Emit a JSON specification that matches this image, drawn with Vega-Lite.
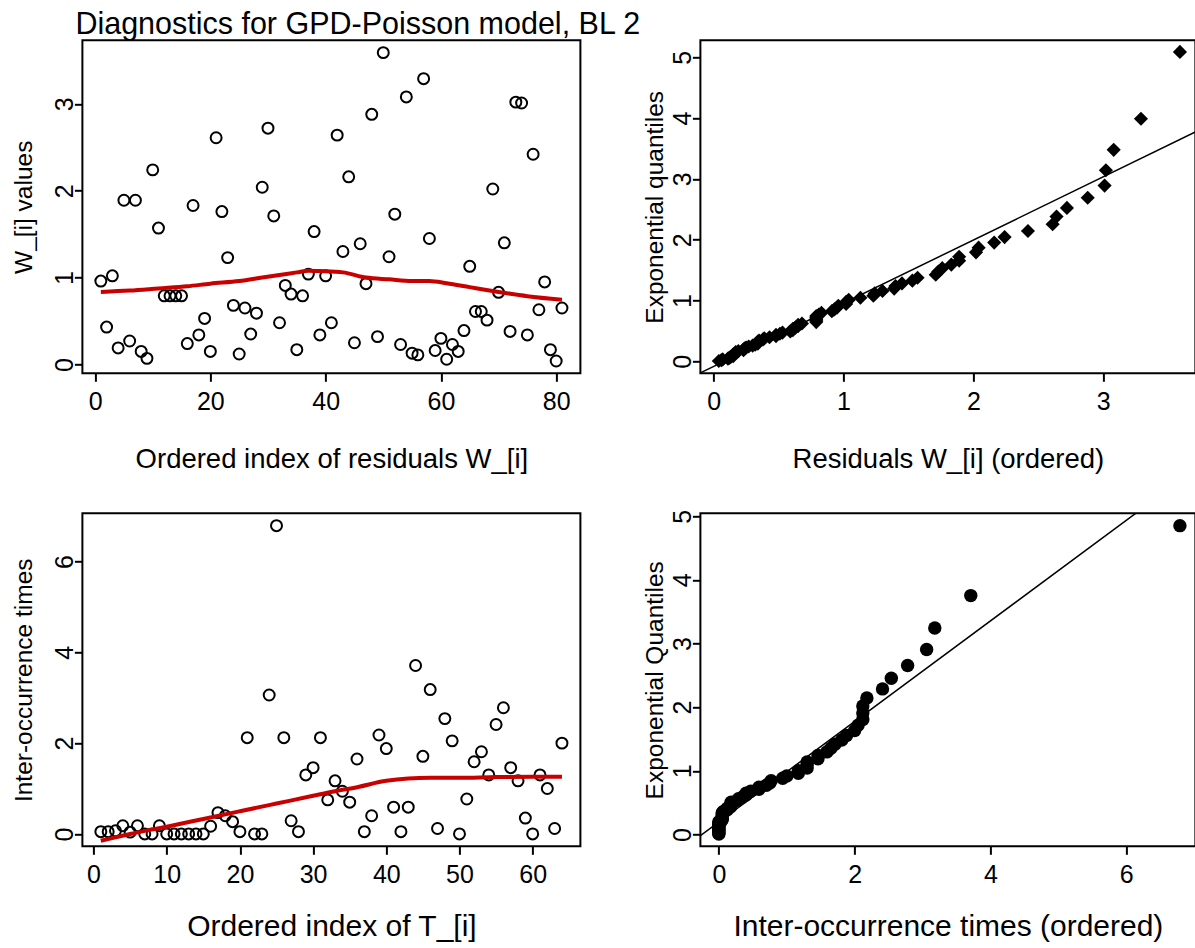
{
  "$schema": "https://vega.github.io/schema/vega-lite/v6.json",
  "background": "white",
  "padding": {"left": 10.4, "top": 9.3, "right": 0, "bottom": 0},
  "title": {"text": "Diagnostics for GPD-Poisson model, BL 2", "anchor": "start", "frame": "group", "fontSize": 30.5, "font": "Liberation Sans", "fontWeight": "normal", "color": "black", "baseline": "alphabetic", "offset": -25.3, "dx": -7},
  "columns": 2,
  "bounds": "flush",
  "spacing": {"row": 140, "column": 120},
  "datasets": {
    "w": [{"i":1,"w":0.96},{"i":2,"w":0.43},{"i":3,"w":1.02},{"i":4,"w":0.19},{"i":5,"w":1.89},{"i":6,"w":0.27},{"i":7,"w":1.89},{"i":8,"w":0.15},{"i":9,"w":0.07},{"i":10,"w":2.24},{"i":11,"w":1.57},{"i":12,"w":0.79},{"i":13,"w":0.79},{"i":14,"w":0.79},{"i":15,"w":0.79},{"i":16,"w":0.24},{"i":17,"w":1.83},{"i":18,"w":0.34},{"i":19,"w":0.53},{"i":20,"w":0.15},{"i":21,"w":2.61},{"i":22,"w":1.76},{"i":23,"w":1.23},{"i":24,"w":0.68},{"i":25,"w":0.12},{"i":26,"w":0.65},{"i":27,"w":0.35},{"i":28,"w":0.59},{"i":29,"w":2.04},{"i":30,"w":2.72},{"i":31,"w":1.71},{"i":32,"w":0.48},{"i":33,"w":0.91},{"i":34,"w":0.81},{"i":35,"w":0.17},{"i":36,"w":0.79},{"i":37,"w":1.04},{"i":38,"w":1.53},{"i":39,"w":0.34},{"i":40,"w":1.02},{"i":41,"w":0.48},{"i":42,"w":2.64},{"i":43,"w":1.30},{"i":44,"w":2.16},{"i":45,"w":0.25},{"i":46,"w":1.39},{"i":47,"w":0.93},{"i":48,"w":2.88},{"i":49,"w":0.32},{"i":50,"w":3.59},{"i":51,"w":1.24},{"i":52,"w":1.73},{"i":53,"w":0.23},{"i":54,"w":3.08},{"i":55,"w":0.13},{"i":56,"w":0.11},{"i":57,"w":3.29},{"i":58,"w":1.45},{"i":59,"w":0.16},{"i":60,"w":0.30},{"i":61,"w":0.06},{"i":62,"w":0.23},{"i":63,"w":0.15},{"i":64,"w":0.39},{"i":65,"w":1.13},{"i":66,"w":0.61},{"i":67,"w":0.61},{"i":68,"w":0.51},{"i":69,"w":2.02},{"i":70,"w":0.83},{"i":71,"w":1.40},{"i":72,"w":0.38},{"i":73,"w":3.02},{"i":74,"w":3.01},{"i":75,"w":0.34},{"i":76,"w":2.42},{"i":77,"w":0.63},{"i":78,"w":0.95},{"i":79,"w":0.17},{"i":80,"w":0.04},{"i":81,"w":0.65}],
    "wl": [{"i":1,"w":0.835},{"i":6,"w":0.85},{"i":11,"w":0.875},{"i":16,"w":0.9},{"i":20,"w":0.93},{"i":25,"w":0.96},{"i":29,"w":1.0},{"i":32,"w":1.03},{"i":35,"w":1.06},{"i":37,"w":1.08},{"i":39,"w":1.075},{"i":43,"w":1.06},{"i":47,"w":1.0},{"i":51,"w":0.98},{"i":55,"w":0.962},{"i":58,"w":0.96},{"i":61,"w":0.935},{"i":65,"w":0.89},{"i":70,"w":0.835},{"i":75,"w":0.786},{"i":81,"w":0.745}],
    "wq": [{"r":0.04,"q":0.006},{"r":0.06,"q":0.019},{"r":0.07,"q":0.031},{"r":0.11,"q":0.044},{"r":0.12,"q":0.057},{"r":0.13,"q":0.070},{"r":0.15,"q":0.084},{"r":0.15,"q":0.097},{"r":0.15,"q":0.111},{"r":0.16,"q":0.125},{"r":0.17,"q":0.139},{"r":0.17,"q":0.153},{"r":0.19,"q":0.168},{"r":0.23,"q":0.182},{"r":0.23,"q":0.197},{"r":0.24,"q":0.212},{"r":0.25,"q":0.228},{"r":0.27,"q":0.243},{"r":0.30,"q":0.259},{"r":0.32,"q":0.275},{"r":0.34,"q":0.292},{"r":0.34,"q":0.308},{"r":0.34,"q":0.325},{"r":0.35,"q":0.343},{"r":0.38,"q":0.360},{"r":0.39,"q":0.378},{"r":0.43,"q":0.396},{"r":0.48,"q":0.415},{"r":0.48,"q":0.434},{"r":0.51,"q":0.453},{"r":0.53,"q":0.472},{"r":0.59,"q":0.492},{"r":0.61,"q":0.513},{"r":0.61,"q":0.534},{"r":0.63,"q":0.555},{"r":0.65,"q":0.577},{"r":0.65,"q":0.599},{"r":0.68,"q":0.622},{"r":0.79,"q":0.645},{"r":0.79,"q":0.669},{"r":0.79,"q":0.693},{"r":0.79,"q":0.718},{"r":0.79,"q":0.744},{"r":0.81,"q":0.770},{"r":0.83,"q":0.797},{"r":0.91,"q":0.825},{"r":0.93,"q":0.854},{"r":0.95,"q":0.883},{"r":0.96,"q":0.913},{"r":1.02,"q":0.944},{"r":1.02,"q":0.977},{"r":1.04,"q":1.010},{"r":1.13,"q":1.045},{"r":1.23,"q":1.080},{"r":1.24,"q":1.117},{"r":1.30,"q":1.156},{"r":1.39,"q":1.196},{"r":1.40,"q":1.237},{"r":1.45,"q":1.281},{"r":1.53,"q":1.326},{"r":1.57,"q":1.374},{"r":1.71,"q":1.424},{"r":1.73,"q":1.477},{"r":1.76,"q":1.532},{"r":1.83,"q":1.591},{"r":1.89,"q":1.654},{"r":1.89,"q":1.720},{"r":2.02,"q":1.792},{"r":2.04,"q":1.869},{"r":2.16,"q":1.952},{"r":2.24,"q":2.043},{"r":2.42,"q":2.143},{"r":2.61,"q":2.254},{"r":2.64,"q":2.380},{"r":2.72,"q":2.523},{"r":2.88,"q":2.690},{"r":3.01,"q":2.890},{"r":3.02,"q":3.142},{"r":3.08,"q":3.478},{"r":3.29,"q":3.989},{"r":3.59,"q":5.088}],
    "wref": [{"r":-0.102,"q":-0.191},{"r":3.75,"q":3.815}],
    "t": [{"i":1,"t":0.05},{"i":2,"t":0.05},{"i":3,"t":0.07},{"i":4,"t":0.18},{"i":5,"t":0.04},{"i":6,"t":0.18},{"i":7,"t":0},{"i":8,"t":0},{"i":9,"t":0.18},{"i":10,"t":0},{"i":11,"t":0},{"i":12,"t":0},{"i":13,"t":0},{"i":14,"t":0},{"i":15,"t":0},{"i":16,"t":0.17},{"i":17,"t":0.47},{"i":18,"t":0.40},{"i":19,"t":0.27},{"i":20,"t":0.05},{"i":21,"t":2.12},{"i":22,"t":0},{"i":23,"t":0},{"i":24,"t":3.06},{"i":25,"t":6.79},{"i":26,"t":2.12},{"i":27,"t":0.29},{"i":28,"t":0.05},{"i":29,"t":1.30},{"i":30,"t":1.46},{"i":31,"t":2.12},{"i":32,"t":0.75},{"i":33,"t":1.17},{"i":34,"t":0.94},{"i":35,"t":0.70},{"i":36,"t":1.65},{"i":37,"t":0.05},{"i":38,"t":0.40},{"i":39,"t":2.18},{"i":40,"t":1.88},{"i":41,"t":0.59},{"i":42,"t":0.05},{"i":43,"t":0.59},{"i":44,"t":3.71},{"i":45,"t":1.71},{"i":46,"t":3.18},{"i":47,"t":0.12},{"i":48,"t":2.54},{"i":49,"t":2.05},{"i":50,"t":0},{"i":51,"t":0.77},{"i":52,"t":1.59},{"i":53,"t":1.81},{"i":54,"t":1.30},{"i":55,"t":2.41},{"i":56,"t":2.78},{"i":57,"t":1.46},{"i":58,"t":1.17},{"i":59,"t":0.35},{"i":60,"t":0},{"i":61,"t":1.30},{"i":62,"t":1.00},{"i":63,"t":0.12},{"i":64,"t":2.00}],
    "tl": [{"i":1,"t":-0.15},{"i":5,"t":0.0},{"i":10,"t":0.16},{"i":15,"t":0.33},{"i":20,"t":0.5},{"i":25,"t":0.67},{"i":30,"t":0.84},{"i":33,"t":0.94},{"i":36,"t":1.03},{"i":40,"t":1.17},{"i":43,"t":1.22},{"i":46,"t":1.235},{"i":50,"t":1.235},{"i":55,"t":1.255},{"i":60,"t":1.26},{"i":64,"t":1.26}],
    "tq": [{"s":0,"q":0.008},{"s":0,"q":0.024},{"s":0,"q":0.040},{"s":0,"q":0.056},{"s":0,"q":0.073},{"s":0,"q":0.090},{"s":0,"q":0.107},{"s":0,"q":0.125},{"s":0,"q":0.143},{"s":0,"q":0.161},{"s":0,"q":0.179},{"s":0,"q":0.198},{"s":0.04,"q":0.217},{"s":0.05,"q":0.237},{"s":0.05,"q":0.257},{"s":0.05,"q":0.277},{"s":0.05,"q":0.298},{"s":0.05,"q":0.320},{"s":0.05,"q":0.341},{"s":0.07,"q":0.363},{"s":0.12,"q":0.386},{"s":0.12,"q":0.409},{"s":0.17,"q":0.433},{"s":0.18,"q":0.458},{"s":0.18,"q":0.483},{"s":0.18,"q":0.508},{"s":0.27,"q":0.535},{"s":0.29,"q":0.562},{"s":0.35,"q":0.589},{"s":0.40,"q":0.618},{"s":0.40,"q":0.647},{"s":0.47,"q":0.678},{"s":0.59,"q":0.709},{"s":0.59,"q":0.741},{"s":0.70,"q":0.774},{"s":0.75,"q":0.809},{"s":0.77,"q":0.845},{"s":0.94,"q":0.882},{"s":1.00,"q":0.920},{"s":1.17,"q":0.960},{"s":1.17,"q":1.002},{"s":1.30,"q":1.045},{"s":1.30,"q":1.091},{"s":1.30,"q":1.138},{"s":1.46,"q":1.188},{"s":1.46,"q":1.241},{"s":1.59,"q":1.297},{"s":1.65,"q":1.356},{"s":1.71,"q":1.418},{"s":1.81,"q":1.485},{"s":1.88,"q":1.556},{"s":2.00,"q":1.633},{"s":2.05,"q":1.717},{"s":2.12,"q":1.808},{"s":2.12,"q":1.908},{"s":2.12,"q":2.019},{"s":2.18,"q":2.144},{"s":2.41,"q":2.287},{"s":2.54,"q":2.454},{"s":2.78,"q":2.655},{"s":3.06,"q":2.906},{"s":3.18,"q":3.243},{"s":3.71,"q":3.753},{"s":6.79,"q":4.852}],
    "tref": [{"s":-0.272,"q":-0.02},{"s":7.06,"q":5.773}]
  },
  "concat": [
    {
      "width": 498, "height": 333,
      "layer": [
        {
          "data": {"name": "w"},
          "mark": {"type": "point", "shape": "circle", "filled": false, "stroke": "black", "strokeWidth": 2, "size": 120, "opacity": 1},
          "encoding": {
            "x": {"field": "i", "type": "quantitative", "scale": {"domain": [-2.2, 84.2], "nice": false, "zero": false}, "axis": {"values": [0, 20, 40, 60, 80], "format": "d", "title": "Ordered index of residuals W_[i]", "titleFontSize": 27.5, "titleY": 94}},
            "y": {"field": "w", "type": "quantitative", "scale": {"domain": [-0.102, 3.732], "nice": false, "zero": false}, "axis": {"values": [0, 1, 2, 3], "format": "d", "title": "W_[i] values", "titleFontSize": 24.5, "titleX": -51}}
          }
        },
        {
          "data": {"name": "wl"},
          "mark": {"type": "line", "color": "#C80000", "strokeWidth": 4, "interpolate": "monotone"},
          "encoding": {
            "x": {"field": "i", "type": "quantitative", "scale": {"domain": [-2.2, 84.2], "nice": false, "zero": false}},
            "y": {"field": "w", "type": "quantitative", "scale": {"domain": [-0.102, 3.732], "nice": false, "zero": false}}
          }
        }
      ]
    },
    {
      "width": 495, "height": 333,
      "layer": [
        {
          "data": {"name": "wref"},
          "mark": {"type": "line", "color": "black", "strokeWidth": 1.5, "clip": true},
          "encoding": {
            "x": {"field": "r", "type": "quantitative", "scale": {"domain": [-0.102, 3.709], "nice": false, "zero": false}, "axis": {"values": [0, 1, 2, 3], "format": "d", "title": "Residuals W_[i] (ordered)", "titleFontSize": 27.5, "titleY": 94}},
            "y": {"field": "q", "type": "quantitative", "scale": {"domain": [-0.197, 5.279], "nice": false, "zero": false}, "axis": {"values": [0, 1, 2, 3, 4, 5], "format": "d", "title": "Exponential quantiles", "titleFontSize": 24.5, "titleX": -38}}
          }
        },
        {
          "data": {"name": "wq"},
          "mark": {"type": "point", "shape": "diamond", "filled": true, "color": "black", "size": 200, "opacity": 1},
          "encoding": {
            "x": {"field": "r", "type": "quantitative", "scale": {"domain": [-0.102, 3.709], "nice": false, "zero": false}},
            "y": {"field": "q", "type": "quantitative", "scale": {"domain": [-0.197, 5.279], "nice": false, "zero": false}}
          }
        }
      ]
    },
    {
      "width": 498, "height": 333,
      "layer": [
        {
          "data": {"name": "t"},
          "mark": {"type": "point", "shape": "circle", "filled": false, "stroke": "black", "strokeWidth": 2, "size": 120, "opacity": 1},
          "encoding": {
            "x": {"field": "i", "type": "quantitative", "scale": {"domain": [-1.52, 66.52], "nice": false, "zero": false}, "axis": {"values": [0, 10, 20, 30, 40, 50, 60], "format": "d", "title": "Ordered index of T_[i]", "titleFontSize": 30, "titleY": 89.7}},
            "y": {"field": "t", "type": "quantitative", "scale": {"domain": [-0.272, 7.062], "nice": false, "zero": false}, "axis": {"values": [0, 2, 4, 6], "format": "d", "title": "Inter-occurrence times", "titleFontSize": 24.5, "titleX": -51}}
          }
        },
        {
          "data": {"name": "tl"},
          "mark": {"type": "line", "color": "#C80000", "strokeWidth": 4, "interpolate": "monotone"},
          "encoding": {
            "x": {"field": "i", "type": "quantitative", "scale": {"domain": [-1.52, 66.52], "nice": false, "zero": false}},
            "y": {"field": "t", "type": "quantitative", "scale": {"domain": [-0.272, 7.062], "nice": false, "zero": false}}
          }
        }
      ]
    },
    {
      "width": 495, "height": 333,
      "layer": [
        {
          "data": {"name": "tref"},
          "mark": {"type": "line", "color": "black", "strokeWidth": 1.5, "clip": true},
          "encoding": {
            "x": {"field": "s", "type": "quantitative", "scale": {"domain": [-0.272, 7.018], "nice": false, "zero": false}, "axis": {"values": [0, 2, 4, 6], "format": "d", "title": "Inter-occurrence times (ordered)", "titleFontSize": 30, "titleY": 89.7}},
            "y": {"field": "q", "type": "quantitative", "scale": {"domain": [-0.186, 5.046], "nice": false, "zero": false}, "axis": {"values": [0, 1, 2, 3, 4, 5], "format": "d", "title": "Exponential Quantiles", "titleFontSize": 24.5, "titleX": -38}}
          }
        },
        {
          "data": {"name": "tq"},
          "mark": {"type": "point", "shape": "circle", "filled": true, "color": "black", "size": 180, "opacity": 1},
          "encoding": {
            "x": {"field": "s", "type": "quantitative", "scale": {"domain": [-0.272, 7.018], "nice": false, "zero": false}},
            "y": {"field": "q", "type": "quantitative", "scale": {"domain": [-0.186, 5.046], "nice": false, "zero": false}}
          }
        }
      ]
    }
  ],
  "config": {
    "font": "Liberation Sans",
    "view": {"stroke": "black", "strokeWidth": 2},
    "axis": {"grid": false, "domain": false, "ticks": true, "tickColor": "black", "tickWidth": 2, "tickSize": 8, "labelColor": "black", "labelFont": "Liberation Sans", "labelFontSize": 25, "titleColor": "black", "titleFont": "Liberation Sans", "titleFontWeight": "normal", "labelFlush": false, "labelOverlap": false, "labelBound": false, "titleBaseline": "alphabetic"},
    "axisX": {"labelBaseline": "alphabetic", "labelAlign": "center", "labelAngle": 0, "labelPadding": 28.5, "labelFontSize": 25},
    "axisY": {"labelAngle": -90, "labelAlign": "center", "labelBaseline": "alphabetic", "labelPadding": 2, "titleAngle": -90, "labelFontSize": 25}
  }
}
